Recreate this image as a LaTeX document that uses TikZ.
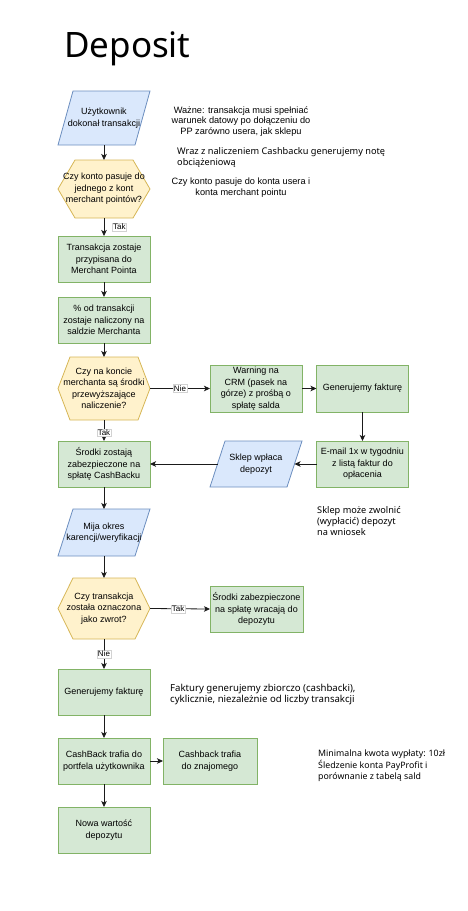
\documentclass[tikz,border=0pt]{standalone}
\usepackage{fontspec}
\setmainfont{Liberation Sans}
\newfontfamily\notefont{Noto Sans}
\newfontfamily\titlefont{Noto Sans}
\usetikzlibrary{arrows.meta,backgrounds,positioning}
\definecolor{blueF}{HTML}{DAE8FC}
\definecolor{blueD}{HTML}{6C8EBF}
\definecolor{yelF}{HTML}{FFF2CC}
\definecolor{yelD}{HTML}{D6B656}
\definecolor{greF}{HTML}{D5E8D4}
\definecolor{greD}{HTML}{82B366}
\definecolor{lineC}{HTML}{1A1A1A}
\begin{document}
\begin{tikzpicture}[x=1pt,y=-1pt,
  txt/.style={inner sep=0pt, outer sep=0pt, align=center, font=\fontsize{9}{11.5}\selectfont, text=black},
  box/.style={txt, draw=greD, fill=greF, line width=0.8pt, minimum width=92pt, minimum height=46pt},
  shp/.style={txt, minimum width=92pt},
  shpline/.style={line width=0.8pt, line join=miter},
  arr/.style={draw=lineC, line width=0.8pt, -{Stealth[length=6pt,width=5.5pt,inset=1.5pt]}},
  lbl/.style={fill=white, draw=gray!35, line width=0.3pt, inner sep=1pt, font=\fontsize{8}{9}\selectfont},
  note/.style={align=left, inner sep=0pt, font=\notefont\fontsize{9.2}{11.3}\selectfont},
  notec/.style={align=center, inner sep=0pt, font=\fontsize{9.2}{10.8}\selectfont}]
\useasboundingbox (0,0) rectangle (467,911);

\node[anchor=base west, inner sep=0pt, font=\titlefont\fontsize{35}{40}\selectfont] (title) at (64,57) {Deposit};

% main column
\node[shp, minimum height=54pt] (u) at (104,118) {Użytkownik\\dokonał transakcji};
\node[shp, minimum height=58pt] (h1) at (104,189) {Czy konto pasuje do\\jednego z kont\\merchant pointów?};
\node[box] (b1) at (104,259) {Transakcja zostaje\\przypisana do\\Merchant Pointa};
\node[box] (b2) at (104,320) {\% od transakcji\\zostaje naliczony na\\saldzie Merchanta};
\node[shp, minimum height=63pt] (h2) at (104,388.5) {Czy na koncie\\merchanta są środki\\przewyższające\\naliczenie?};
\node[box, minimum height=47pt] (w) at (256,388.5) {Warning na\\CRM (pasek na\\górze) z prośbą o\\spłatę salda};
\node[box, minimum height=47pt] (g1) at (362.5,388.5) {Generujemy fakturę};
\node[box] (e) at (362.5,464) {E-mail 1x w tygodniu\\z listą faktur do\\opłacenia};
\node[shp, minimum height=46pt] (sk) at (256,464) {Sklep wpłaca\\depozyt};
\node[box] (s1) at (104,464) {Środki zostają\\zabezpieczone na\\spłatę CashBacku};
\node[shp, minimum height=47pt] (m) at (104,532.5) {Mija okres\\karencji/weryfikacji};
\node[shp, minimum height=61pt] (h3) at (104,608.5) {Czy transakcja\\została oznaczona\\jako zwrot?};
\node[box, minimum width=93pt] (s2) at (256.5,609) {Środki zabezpieczone\\na spłatę wracają do\\depozytu};
\node[box] (g2) at (104,692) {Generujemy fakturę};
\node[box] (c1) at (104,761) {CashBack trafia do\\portfela użytkownika};
\node[box, minimum width=94pt] (c2) at (210,761) {Cashback trafia\\do znajomego};
\node[box] (n) at (104,830) {Nowa wartość\\depozytu};

% notes
\node[notec] (n1) at (241,121.5) {Ważne: transakcja musi spełniać\\warunek datowy po dołączeniu do\\PP zarówno usera, jak sklepu};
\node[note, anchor=west] (n2) at (177,157.5) {Wraz z naliczeniem Cashbacku generujemy notę\\obciążeniową};
\node[notec] (n3) at (241,187.5) {Czy konto pasuje do konta usera i\\konta merchant pointu};
\node[note, anchor=west] (n4) at (317,521) {Sklep może zwolnić\\(wypłacić) depozyt\\na wniosek};
\node[note, anchor=west, font=\notefont\fontsize{9.6}{11.3}\selectfont] (n5) at (170,694.5) {Faktury generujemy zbiorczo (cashbacki),\\cyklicznie, niezależnie od liczby transakcji};
\node[note, anchor=west, font=\notefont\fontsize{8.8}{11.3}\selectfont] (n6) at (318,766) {Minimalna kwota wypłaty: 10zł\\Śledzenie konta PayProfit i\\porównanie z tabelą sald};

% shapes behind text
\begin{scope}[on background layer]
  \foreach \p in {u,m,sk}{
    \draw[shpline, draw=blueD, fill=blueF] (\p.south west) -- ([xshift=15pt]\p.north west) -- (\p.north east) -- ([xshift=-15pt]\p.south east) -- cycle;
  }
  \foreach \p/\a in {h1/17pt,h2/12pt,h3/15pt}{
    \draw[shpline, draw=yelD, fill=yelF] (\p.west) -- ([xshift=\a]\p.north west) -- ([xshift=-\a]\p.north east) -- (\p.east) -- ([xshift=-\a]\p.south east) -- ([xshift=\a]\p.south west) -- cycle;
  }
\end{scope}

\coordinate (skR) at ([xshift=-7.5pt]sk.east);
\coordinate (skL) at ([xshift=7.5pt]sk.west);

% connectors
\draw[arr] (u.south) -- (h1.north);
\draw[arr] (h1.south) -- node[lbl, right=8pt] {Tak} (b1.north);
\draw[arr] (b1.south) -- (b2.north);
\draw[arr] (b2.south) -- (h2.north);
\draw[arr] (h2.east) -- node[lbl] {Nie} (w.west);
\draw[arr] (w.east) -- (g1.west);
\draw[arr] (g1.south) -- (e.north);
\draw[arr] (e.west) -- (skR);
\draw[arr] (skL) -- (s1.east);
\draw[arr] (h2.south) -- node[lbl, pos=0.6] {Tak} (s1.north);
\draw[arr] (s1.south) -- (m.north);
\draw[arr] (m.south) -- (h3.north);
\draw[arr] (h3.east) -- node[lbl, pos=0.47] {Tak} (s2.west);
\draw[arr] (h3.south) -- node[lbl] {Nie} (g2.north);
\draw[arr] (g2.south) -- (c1.north);
\draw[arr] (c1.east) -- (c2.west);
\draw[arr] (c1.south) -- (n.north);
\end{tikzpicture}
\end{document}
